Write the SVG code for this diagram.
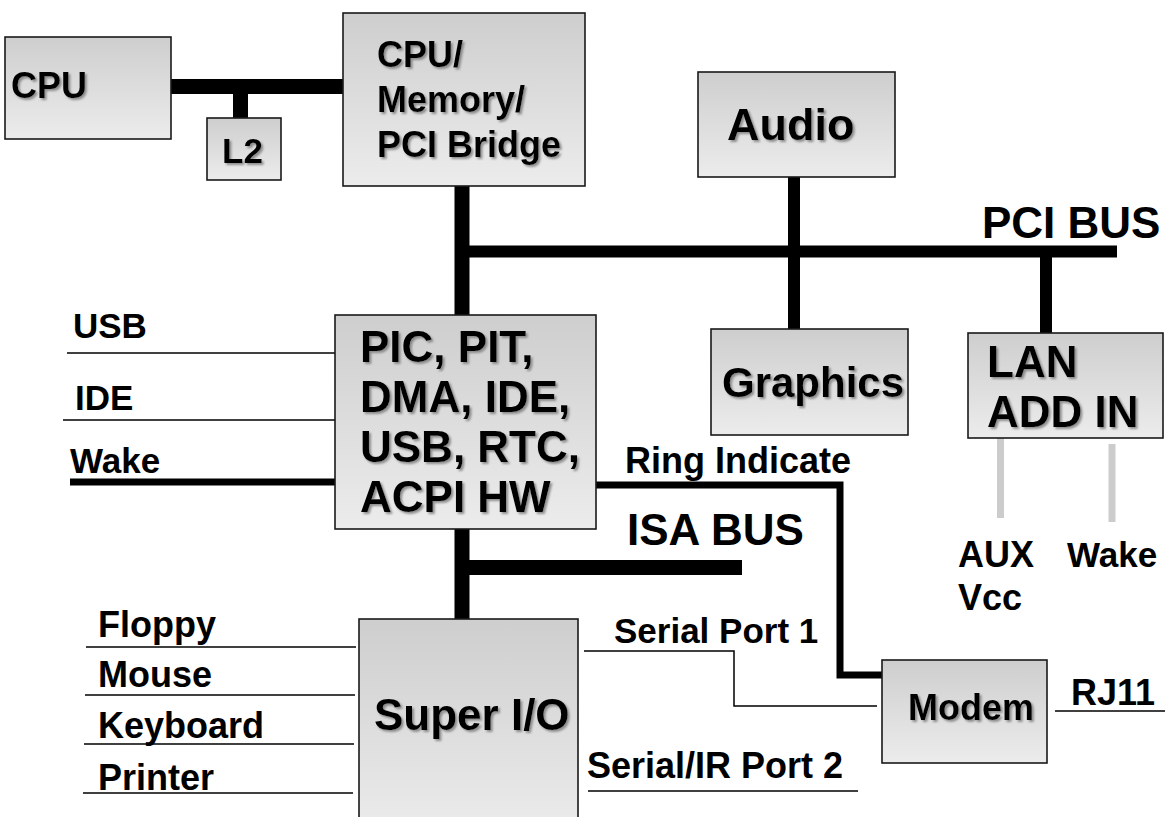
<svg xmlns="http://www.w3.org/2000/svg" width="1165" height="817" viewBox="0 0 1165 817">
<defs>
<linearGradient id="g" x1="0" y1="0" x2="0" y2="1">
<stop offset="0" stop-color="#cecece"/>
<stop offset="1" stop-color="#ececec"/>
</linearGradient>
<filter id="sh" x="-10%" y="-10%" width="130%" height="140%">
<feDropShadow dx="2" dy="2" stdDeviation="1" flood-color="#777" flood-opacity="0.8"/>
</filter>
</defs>
<style>
text{font-family:"Liberation Sans",Arial,sans-serif;font-weight:bold;fill:#000}
.box{fill:url(#g);stroke:#1a1a1a;stroke-width:1.6}
.nt{filter:url(#sh)}
.bus{stroke:#000;fill:none;stroke-linecap:butt}
.thin{stroke:#000;stroke-width:1.5;fill:none}
.gray{stroke:#cccccc;stroke-width:7;fill:none}
.s35{font-size:35px}
.s36{font-size:36px}
.s44{font-size:44px}
</style>

<g id="connectors">
<line class="bus" x1="171" y1="86.5" x2="343" y2="86.5" stroke-width="15"/>
<line class="bus" x1="240.5" y1="86" x2="240.5" y2="118" stroke-width="15"/>
<line class="bus" x1="462" y1="186" x2="462" y2="315" stroke-width="15"/>
<line class="bus" x1="455" y1="251.5" x2="1117" y2="251.5" stroke-width="12"/>
<line class="bus" x1="794" y1="177" x2="794" y2="329" stroke-width="12"/>
<line class="bus" x1="1046" y1="251" x2="1046" y2="333" stroke-width="12"/>
<line class="bus" x1="462" y1="529" x2="462" y2="619" stroke-width="15"/>
<line class="bus" x1="462" y1="567.5" x2="742" y2="567.5" stroke-width="15"/>
<line class="bus" x1="70" y1="482" x2="335" y2="482" stroke-width="7"/>
<polyline class="bus" points="596,485 840,485 840,675 882,675" stroke-width="7"/>
<line class="thin" x1="67" y1="353" x2="338" y2="353"/>
<line class="thin" x1="63" y1="420" x2="335" y2="420"/>
<line class="thin" x1="86" y1="647" x2="356" y2="647"/>
<line class="thin" x1="85" y1="695" x2="355" y2="695"/>
<line class="thin" x1="84" y1="744" x2="354" y2="744"/>
<line class="thin" x1="83" y1="793" x2="353" y2="793"/>
<polyline class="thin" points="584,651 734,651 734,706 877,706"/>
<line class="thin" x1="588" y1="791" x2="858" y2="791"/>
<line class="thin" x1="1055" y1="711" x2="1165" y2="711"/>
<line class="gray" x1="1000.5" y1="438" x2="1000.5" y2="518"/>
<line class="gray" x1="1112" y1="444" x2="1112" y2="522"/>
</g>

<g id="cpu">
<rect class="box" x="5" y="37" width="166" height="102"/>
<text class="nt s36" x="11" y="98">CPU</text>
</g>
<g id="l2">
<rect class="box" x="207" y="118" width="74" height="62"/>
<text class="nt" x="222" y="163" font-size="35">L2</text>
</g>
<g id="bridge">
<rect class="box" x="343" y="13" width="242" height="173"/>
<text class="nt s36" x="377" y="67">CPU/</text>
<text class="nt s36" x="377" y="112">Memory/</text>
<text class="nt s36" x="377" y="157">PCI Bridge</text>
</g>
<g id="audio">
<rect class="box" x="698" y="72" width="197" height="105"/>
<text class="nt" x="727" y="140" font-size="45">Audio</text>
</g>
<g id="pci-bus-label">
<text x="982" y="238" font-size="44">PCI BUS</text>
</g>
<g id="graphics">
<rect class="box" x="711" y="329" width="197" height="106"/>
<text class="nt" x="722" y="397" font-size="42">Graphics</text>
</g>
<g id="lan">
<rect class="box" x="968" y="333" width="195" height="105"/>
<text class="nt s44" x="987" y="377">LAN</text>
<text class="nt s44" x="987" y="427">ADD IN</text>
</g>
<g id="pic">
<rect class="box" x="335" y="315" width="261" height="214"/>
<text class="nt s44" x="360" y="362">PIC, PIT,</text>
<text class="nt s44" x="360" y="412">DMA, IDE,</text>
<text class="nt s44" x="360" y="462">USB, RTC,</text>
<text class="nt s44" x="360" y="512">ACPI HW</text>
</g>
<g id="left-labels">
<text class="s35" x="73" y="338">USB</text>
<text class="s35" x="75" y="410">IDE</text>
<text class="s35" x="70" y="473">Wake</text>
</g>
<g id="ring-label">
<text class="s36" x="625" y="473">Ring Indicate</text>
</g>
<g id="isa-label">
<text class="s44" x="627" y="545">ISA BUS</text>
</g>
<g id="superio">
<rect class="box" x="359" y="619" width="219" height="215"/>
<text class="nt s44" x="374" y="730">Super I/O</text>
</g>
<g id="superio-labels">
<text class="s36" x="98" y="637">Floppy</text>
<text class="s36" x="98" y="687">Mouse</text>
<text class="s36" x="98" y="738">Keyboard</text>
<text class="s36" x="98" y="790">Printer</text>
<text class="s35" x="614" y="643">Serial Port 1</text>
<text class="s36" x="587" y="778">Serial/IR Port 2</text>
</g>
<g id="modem">
<rect class="box" x="882" y="660" width="165" height="103"/>
<text class="nt s36" x="908" y="720">Modem</text>
</g>
<g id="rj11-label">
<text class="s36" x="1071" y="705">RJ11</text>
</g>
<g id="lan-labels">
<text class="s36" x="958" y="567">AUX</text>
<text class="s36" x="958" y="610">Vcc</text>
<text class="s35" x="1067" y="567">Wake</text>
</g>
</svg>
